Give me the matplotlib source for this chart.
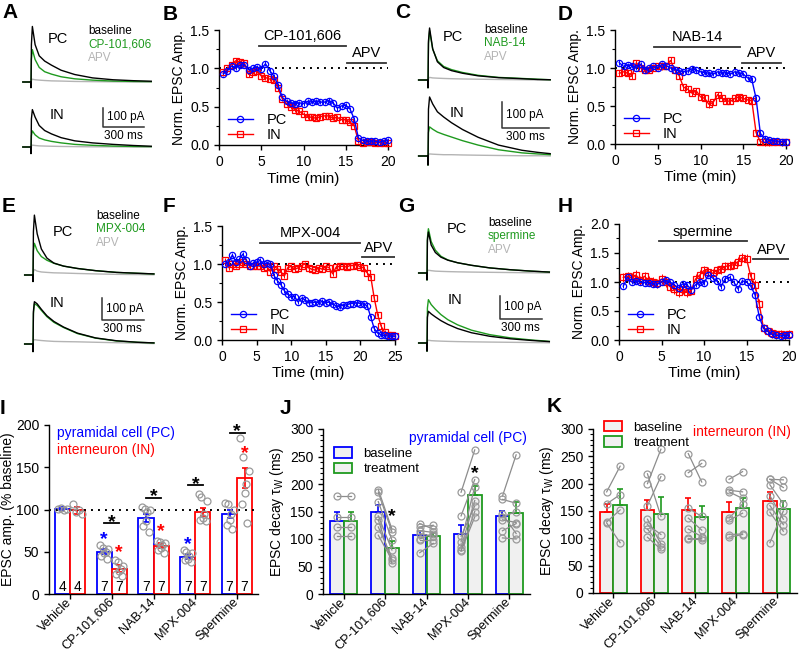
import numpy as np
import matplotlib.pyplot as plt
from matplotlib.patches import Patch
from matplotlib.ticker import MultipleLocator, FormatStrFormatter

plt.rcParams['font.family'] = ['Liberation Sans', 'DejaVu Sans']
plt.rcParams['mathtext.fontset'] = 'custom'
plt.rcParams['mathtext.rm'] = 'Liberation Sans'
plt.rcParams['mathtext.it'] = 'Liberation Sans:italic'
plt.rcParams['axes.linewidth'] = 1.0
plt.rcParams['xtick.major.width'] = 1.0
plt.rcParams['ytick.major.width'] = 1.0
plt.rcParams['xtick.major.size'] = 3.5
plt.rcParams['ytick.major.size'] = 3.5
plt.rcParams['ytick.minor.size'] = 2.0
plt.rcParams['ytick.minor.width'] = 0.8

FIG_W, FIG_H = 800, 655
BLUE = '#0000ff'
RED = '#ff0000'
GREEN = '#1f9a1f'
GREY = '#b4b4b4'
DOT_GREY = '#9a9a9a'

# ---------------- example traces (A, C, E, G), values in pA ----------------
t_a = [-60, -2, 0, 3, 10, 30, 60, 100, 150, 220, 320, 450, 600, 750, 880]
a_pc_base = [0, 0, -30, 200, 297, 200, 140, 112, 90, 63, 40, 22, 12, 7, 4]
a_pc_drug = [0, 0, -30, 120, 173, 120, 78, 55, 42, 28, 17, 10, 5, 3, 2]
a_pc_apv = [0, 0, -30, 8, 15, 12, 10, 8, 6, 5, 3, 2, 1, 0, 0]
a_in_base = [0, 0, -35, 150, 200, 160, 115, 88, 70, 50, 33, 22, 14, 8, 4]
a_in_drug = [0, 0, -35, 60, 86, 65, 48, 38, 30, 22, 14, 9, 5, 3, 2]
a_in_apv = [0, 0, -35, 5, 10, 8, 6, 5, 4, 3, 2, 1, 1, 0, 0]

t_c = [-60, -2, 0, 3, 10, 30, 60, 100, 150, 220, 320, 450, 600, 700, 780]
c_pc_base = [0, 0, -30, 150, 200, 120, 70, 48, 36, 26, 16, 9, 5, 2, 1]
c_pc_drug = [0, 0, -30, 140, 190, 118, 74, 52, 40, 29, 18, 10, 6, 3, 1]
c_pc_apv = [0, 0, -30, 6, 10, 8, 7, 6, 5, 4, 3, 2, 1, 0, 0]
c_in_base = [0, 0, -35, 180, 227, 200, 170, 150, 128, 102, 72, 42, 22, 14, 9]
c_in_drug = [0, 0, -35, 90, 112, 103, 92, 83, 73, 59, 42, 24, 12, 8, 5]
c_in_apv = [0, 0, -35, 5, 8, 7, 6, 5, 5, 4, 3, 2, 1, 1, 0]

t_e = [-60, -2, 0, 3, 10, 30, 60, 100, 150, 220, 320, 450, 600, 750, 870]
e_pc_base = [0, 0, -30, 200, 276, 190, 120, 78, 55, 41, 30, 20, 12, 8, 5]
e_pc_drug = [0, 0, -30, 110, 146, 112, 85, 68, 54, 41, 30, 20, 12, 8, 5]
e_pc_apv = [0, 0, -30, 15, 25, 18, 14, 12, 10, 9, 7, 5, 3, 2, 1]
e_in_base = [0, 0, -35, 150, 195, 185, 160, 130, 104, 78, 50, 28, 15, 8, 5]
e_in_drug = [0, 0, -35, 140, 185, 178, 155, 126, 100, 76, 48, 27, 14, 8, 5]
e_in_apv = [0, 0, -35, 15, 20, 18, 16, 14, 12, 11, 10, 8, 6, 4, 2]

t_g = [-60, -2, 0, 3, 10, 30, 60, 100, 150, 220, 320, 450, 600, 750, 880]
g_pc_base = [0, 0, -30, 140, 176, 120, 88, 68, 55, 44, 33, 22, 14, 8, 4]
g_pc_drug = [0, 0, -30, 150, 190, 135, 98, 72, 56, 44, 33, 22, 14, 8, 4]
g_pc_apv = [0, 0, -30, 8, 12, 10, 8, 7, 6, 5, 4, 3, 2, 1, 0]
g_in_base = [0, 0, -35, 110, 136, 125, 112, 96, 80, 62, 44, 29, 18, 11, 6]
g_in_drug = [0, 0, -35, 150, 186, 165, 145, 122, 100, 78, 55, 36, 22, 13, 7]
g_in_apv = [0, 0, -35, 8, 12, 10, 9, 8, 7, 6, 5, 4, 3, 2, 1]

# ---------------- time courses (B, D, F, H) ----------------
time_20 = np.arange(0.5, 20.01, 0.5)
time_25 = np.arange(0.5, 25.01, 0.5)

b_pc = [0.93, 0.97, 1.03, 1.01, 1.04, 1.05, 0.98, 1.00, 1.02, 0.99,
        1.06, 0.97, 0.90, 0.78, 0.62, 0.57, 0.55, 0.54, 0.55, 0.54,
        0.57, 0.56, 0.57, 0.56, 0.56, 0.58, 0.55, 0.48, 0.51, 0.52,
        0.47, 0.34, 0.09, 0.06, 0.05, 0.05, 0.05, 0.04, 0.05, 0.06]
b_in = [0.95, 1.00, 1.05, 1.10, 1.08, 1.07, 0.92, 0.95, 0.97, 0.90,
        0.88, 0.86, 0.85, 0.74, 0.60, 0.54, 0.50, 0.46, 0.44, 0.40,
        0.37, 0.36, 0.35, 0.37, 0.38, 0.38, 0.35, 0.36, 0.33, 0.33,
        0.30, 0.25, 0.05, 0.03, 0.04, 0.04, 0.03, 0.03, 0.03, 0.03]
d_pc = [1.07, 1.02, 1.04, 1.03, 1.00, 1.05, 0.98, 1.00, 1.02, 1.00,
        1.05, 1.03, 1.00, 0.98, 0.96, 0.95, 0.96, 0.99, 0.97, 0.95,
        0.94, 0.93, 0.92, 0.95, 0.93, 0.94, 0.92, 0.95, 0.93, 0.92,
        0.87, 0.85, 0.60, 0.14, 0.07, 0.05, 0.04, 0.04, 0.03, 0.03]
d_in = [0.93, 0.95, 0.93, 0.90, 1.07, 1.00, 0.97, 0.98, 1.00, 1.03,
        1.02, 1.03, 1.10, 0.97, 0.90, 0.75, 0.72, 0.67, 0.70, 0.62,
        0.60, 0.52, 0.55, 0.65, 0.60, 0.57, 0.56, 0.60, 0.62, 0.60,
        0.58, 0.57, 0.15, 0.03, 0.02, 0.02, 0.03, 0.03, 0.02, 0.02]
f_pc = [1.00, 1.03, 1.12, 1.03, 1.06, 1.13, 1.05, 0.98, 1.01, 1.02,
        1.05, 1.00, 1.01, 1.00, 0.85, 0.78, 0.73, 0.65, 0.60, 0.57,
        0.57, 0.50, 0.55, 0.53, 0.49, 0.49, 0.50, 0.49, 0.51, 0.49,
        0.50, 0.47, 0.45, 0.44, 0.46, 0.46, 0.48, 0.48, 0.49, 0.48,
        0.47, 0.45, 0.30, 0.15, 0.09, 0.07, 0.06, 0.05, 0.05, 0.05]
f_in = [1.05, 0.95, 1.00, 0.98, 1.00, 1.02, 1.00, 0.98, 0.97, 0.98,
        0.97, 0.95, 0.96, 0.90, 0.97, 0.94, 0.90, 0.84, 0.95, 0.97,
        0.93, 0.95, 0.98, 1.00, 0.95, 0.93, 0.92, 0.95, 0.93, 0.97,
        0.95, 0.87, 0.96, 0.97, 0.97, 0.96, 0.98, 0.98, 0.99, 0.96,
        0.95, 0.88, 0.83, 0.55, 0.33, 0.18, 0.10, 0.07, 0.06, 0.05]
h_pc = [0.93, 1.08, 1.00, 1.02, 1.00, 0.99, 0.98, 0.97, 0.96, 1.00,
        1.03, 1.00, 0.95, 0.90, 0.97, 0.95, 0.87, 0.95, 1.00, 0.98,
        1.12, 1.07, 1.02, 0.92, 1.06, 1.08, 1.00, 0.88, 1.02, 1.00,
        0.93, 0.78, 0.40, 0.20, 0.15, 0.10, 0.08, 0.07, 0.08, 0.08]
h_in = [1.08, 1.10, 1.07, 1.12, 1.03, 1.10, 1.02, 1.00, 0.98, 1.05,
        1.00, 0.92, 0.88, 0.83, 0.88, 0.82, 0.85, 1.05, 1.12, 1.20,
        1.18, 1.15, 1.20, 1.22, 1.27, 1.28, 1.30, 1.35, 1.42, 1.40,
        1.10, 0.95, 0.62, 0.20, 0.15, 0.12, 0.10, 0.10, 0.08, 0.10]
# typical SEM per series
b_sem = (0.03, 0.03)
d_sem = (0.03, 0.04)
f_sem = (0.03, 0.03)
h_sem = (0.04, 0.08)

# ---------------- summary bars (I, J, K) ----------------
drugs = ['Vehicle', 'CP-101,606', 'NAB-14', 'MPX-004', 'Spermine']

i_pc_mean = [101, 50, 90, 44, 95]
i_pc_sem = [1.5, 3, 5, 3, 5]
i_in_mean = [99, 30, 57, 97, 137]
i_in_sem = [4, 4, 3, 5, 12]
i_pc_n = [4, 7, 7, 7, 7]
i_in_n = [4, 7, 7, 7, 7]
i_pc_pts = [[101, 100, 102, 101],
            [58, 55, 53, 50, 48, 45, 42],
            [103, 101, 100, 97, 86, 80, 73],
            [52, 50, 48, 45, 42, 40, 38],
            [108, 107, 100, 95, 88, 82, 77]]
i_in_pts = [[106, 100, 97, 95],
            [40, 38, 33, 30, 27, 24, 21],
            [63, 62, 60, 58, 55, 52, 48],
            [118, 115, 110, 95, 90, 88, 86],
            [185, 162, 146, 130, 120, 107, 84]]
i_pair_sig = [1, 2, 3, 4]
i_pair_sig_y = [84, 114, 129, 191]
i_pc_sig = [1, 3]
i_pc_sig_y = [68, 62]
i_in_sig = [1, 2, 4]
i_in_sig_y = [53, 78, 170]

j_base_mean = [133, 150, 107, 110, 141]
j_base_sem = [16, 12, 7, 16, 10]
j_trt_mean = [133, 83, 106, 180, 148]
j_trt_sem = [16, 14, 5, 17, 20]
j_base_pts = [[179, 140, 122, 106],
              [190, 185, 168, 142, 122, 107, 135],
              [128, 122, 115, 110, 98, 75, 100],
              [185, 142, 95, 85, 80, 78, 105],
              [178, 172, 140, 135, 145, 102, 115]]
j_trt_pts = [[179, 140, 122, 106],
             [118, 113, 98, 80, 66, 62, 56],
             [118, 125, 112, 105, 98, 92, 110],
             [262, 208, 195, 170, 150, 140, 160],
             [253, 165, 150, 130, 110, 100, 128]]
j_sig = [1, 3]
j_sig_y = [150, 228]

k_base_mean = [149, 151, 151, 149, 168]
k_base_sem = [13, 20, 23, 17, 16]
k_trt_mean = [161, 145, 139, 156, 154]
k_trt_sem = [30, 30, 21, 17, 14]
k_base_pts = [[185, 163, 130, 128],
              [218, 200, 160, 125, 117, 102, 135],
              [255, 220, 155, 137, 117, 100, 98],
              [208, 188, 185, 137, 133, 107, 102],
              [208, 208, 198, 178, 160, 148, 92]]
k_trt_pts = [[232, 180, 152, 92],
             [140, 263, 213, 107, 85, 80, 90],
             [203, 237, 140, 115, 103, 97, 100],
             [222, 185, 173, 163, 146, 108, 107],
             [207, 193, 163, 135, 125, 113, 150]]


def px_axes(fig, left, top, right, bottom):
    return fig.add_axes([left / FIG_W, 1 - bottom / FIG_H,
                         (right - left) / FIG_W, (bottom - top) / FIG_H])


def px_text(fig, x, y, s, **kw):
    fig.text(x / FIG_W, 1 - y / FIG_H, s, **kw)


def draw_traces(fig, lay, t, pc, inn, drug):
    sx, pc_y, in_y = lay['stim_x'], lay['pc_y'], lay['in_y']
    ms_px, pa_px = lay['ms_px'], lay['pa_px']
    left, right = sx - 15, sx + 140
    top, bottom = pc_y - 65, in_y + 12
    ax = px_axes(fig, left, top, right, bottom)
    ax.set_xlim((left - sx) * ms_px, (right - sx) * ms_px)
    ax.set_ylim((in_y - bottom) * pa_px, (in_y - top) * pa_px)
    ax.axis('off')
    pc_off = (in_y - pc_y) * pa_px
    for vals, off in ((pc, pc_off), (inn, 0.0)):
        apv, base, dr = vals[2], vals[0], vals[1]
        ax.plot(t, np.array(apv) + off, color=GREY, lw=1.0)
        ax.plot(t, np.array(dr) + off, color=GREEN, lw=1.0)
        ax.plot(t, np.array(base) + off, color='black', lw=1.0)
    # scale bar
    bx, by = lay['bar']
    x0 = (bx - sx) * ms_px
    y0 = (in_y - by) * pa_px
    ax.plot([x0, x0, x0 + 300], [y0 + 100, y0, y0], color='#333333', lw=1.1,
            clip_on=False)
    ax.text(x0 + 4 * ms_px, y0 + 50, '100 pA', fontsize=8.5, va='center',
            ha='left')
    ax.text(x0 + 150, y0 - 9 * pa_px, '300 ms', fontsize=8.5, va='center',
            ha='center')
    px_text(fig, *lay['pc_lab'], 'PC', fontsize=10.5, ha='center', va='center')
    px_text(fig, *lay['in_lab'], 'IN', fontsize=10.5, ha='center', va='center')
    lx, ly = lay['leg']
    px_text(fig, lx, ly, 'baseline', fontsize=8.5, va='center', color='black')
    px_text(fig, lx, ly + 13.5, drug, fontsize=8.5, va='center', color=GREEN)
    px_text(fig, lx, ly + 27, 'APV', fontsize=8.5, va='center', color=GREY)


def draw_timecourse(fig, rect, t, pc, inn, sem, xmax, ymax, drug, drug_span,
                    drug_y, apv_span, apv_y):
    ax = px_axes(fig, *rect)
    ax.plot([0, xmax], [1, 1], color='black', lw=1.4,
            linestyle=(0, (1, 2.6)), zorder=1)
    for vals, s, col, mk, lab in ((inn, sem[1], RED, 's', 'IN'),
                                  (pc, sem[0], BLUE, 'o', 'PC')):
        ax.errorbar(t, vals, yerr=s, fmt='none', ecolor=col, elinewidth=0.7,
                    capsize=0, zorder=2, clip_on=False)
        ax.plot(t, vals, color=col, marker=mk, mfc='none', mec=col, ms=4.5,
                mew=0.9, lw=1.0, clip_on=False, label=lab, zorder=3)
    ax.plot(drug_span, [drug_y, drug_y], color='#333333', lw=1.3)
    ax.text(np.mean(drug_span), drug_y + 0.035 * ymax / 1.5, drug,
            ha='center', va='bottom', fontsize=10.5)
    ax.plot(apv_span, [apv_y, apv_y], color='#333333', lw=1.3)
    ax.text(np.mean(apv_span), apv_y + 0.035 * ymax / 1.5, 'APV',
            ha='center', va='bottom', fontsize=10.5)
    ax.set_xlim(0, xmax)
    ax.set_ylim(0, ymax)
    ax.xaxis.set_major_locator(MultipleLocator(5))
    ax.yaxis.set_major_locator(MultipleLocator(0.5))
    ax.yaxis.set_minor_locator(MultipleLocator(0.25))
    ax.yaxis.set_major_formatter(FormatStrFormatter('%.1f'))
    ax.tick_params(labelsize=10)
    for side in ('top', 'right'):
        ax.spines[side].set_visible(False)
    ax.set_xlabel('Time (min)', fontsize=11, labelpad=2)
    ax.set_ylabel('Norm. EPSC Amp.', fontsize=10, labelpad=3)
    handles, labels = ax.get_legend_handles_labels()
    ax.legend(handles[::-1], labels[::-1], loc='lower left',
              bbox_to_anchor=(0.0, -0.05), frameon=False, fontsize=10.5,
              handlelength=1.7, handletextpad=1.0, labelspacing=0.05,
              borderaxespad=0.2)
    return ax


def style_bar_axes(ax, ymax, major, minor=None):
    ax.set_xlim(-0.5, 4.5)
    ax.set_ylim(0, ymax)
    ax.yaxis.set_major_locator(MultipleLocator(major))
    if minor:
        ax.yaxis.set_minor_locator(MultipleLocator(minor))
    ax.set_xticks(range(len(drugs)))
    ax.set_xticklabels(drugs, rotation=45, ha='right', va='center',
                       rotation_mode='anchor', fontsize=9.2)
    ax.tick_params(axis='x', pad=1.0)
    ax.tick_params(axis='y', labelsize=10)
    for side in ('top', 'right'):
        ax.spines[side].set_visible(False)


def scatter_offsets(n, spread):
    return np.linspace(-spread, spread, n)[np.argsort(np.arange(n) % 2)]


fig = plt.figure(figsize=(FIG_W / 100, FIG_H / 100), dpi=100)

trace_layouts = {
    'A': dict(stim_x=31, pc_y=82, in_y=147, ms_px=300 / 41, pa_px=100 / 18.7,
              bar=(103, 126.7), pc_lab=(58, 39), in_lab=(57, 115),
              leg=(88, 31)),
    'C': dict(stim_x=428, pc_y=80, in_y=156, ms_px=300 / 47, pa_px=100 / 26,
              bar=(502, 128), pc_lab=(453, 37), in_lab=(457, 113),
              leg=(484, 30)),
    'E': dict(stim_x=33, pc_y=275, in_y=344, ms_px=300 / 41.7,
              pa_px=100 / 21.7, bar=(102, 320), pc_lab=(63, 232),
              in_lab=(57, 303), leg=(96, 216)),
    'G': dict(stim_x=427, pc_y=273, in_y=343, ms_px=300 / 41.7,
              pa_px=100 / 23.3, bar=(500, 319), pc_lab=(457, 229),
              in_lab=(455, 300), leg=(488, 223)),
}

draw_traces(fig, trace_layouts['A'], t_a,
            (a_pc_base, a_pc_drug, a_pc_apv), (a_in_base, a_in_drug, a_in_apv),
            'CP-101,606')
draw_traces(fig, trace_layouts['C'], t_c,
            (c_pc_base, c_pc_drug, c_pc_apv), (c_in_base, c_in_drug, c_in_apv),
            'NAB-14')
draw_traces(fig, trace_layouts['E'], t_e,
            (e_pc_base, e_pc_drug, e_pc_apv), (e_in_base, e_in_drug, e_in_apv),
            'MPX-004')
draw_traces(fig, trace_layouts['G'], t_g,
            (g_pc_base, g_pc_drug, g_pc_apv), (g_in_base, g_in_drug, g_in_apv),
            'spermine')

draw_timecourse(fig, (219, 30, 388, 145), time_20, b_pc, b_in, b_sem, 20, 1.5,
                'CP-101,606', (4.7, 15.0), 1.29, (15.1, 19.8), 1.07)
draw_timecourse(fig, (615, 30, 786, 144), time_20, d_pc, d_in, d_sem, 20, 1.5,
                'NAB-14', (4.6, 14.6), 1.28, (14.8, 19.4), 1.07)
draw_timecourse(fig, (222, 226, 395, 340), time_25, f_pc, f_in, f_sem, 25, 1.5,
                'MPX-004', (5.5, 19.9), 1.28, (20.3, 25.0), 1.09)
draw_timecourse(fig, (619, 224, 789, 340), time_20, h_pc, h_in, h_sem, 20, 2.0,
                'spermine', (4.7, 15.0), 1.70, (15.8, 20.0), 1.39)

# ---------------- panel I ----------------
x = np.arange(len(drugs))
bw = 0.36
ax_i = px_axes(fig, 49, 425, 258, 594)
ax_i.plot([-0.5, 4.5], [100, 100], color='black', lw=1.4,
          linestyle=(0, (1, 2.6)), zorder=2.5)
for means, sems, col, sign, pts, ns in ((i_pc_mean, i_pc_sem, BLUE, -1,
                                         i_pc_pts, i_pc_n),
                                        (i_in_mean, i_in_sem, RED, 1,
                                         i_in_pts, i_in_n)):
    xs = x + sign * bw / 2
    ax_i.bar(xs, means, width=bw, facecolor='white', edgecolor=col, lw=1.3,
             zorder=2)
    ax_i.errorbar(xs, means, yerr=sems, fmt='none', ecolor=col, elinewidth=1.2,
                  capsize=2.5, capthick=1.2, zorder=3)
    for xi, p in zip(xs, pts):
        ax_i.plot(xi + scatter_offsets(len(p), 0.1), p, 'o', mfc='none',
                  mec=DOT_GREY, ms=5, mew=0.9, zorder=4)
    for xi, n in zip(xs, ns):
        ax_i.text(xi, 8, str(n), ha='center', va='center', fontsize=10,
                  zorder=5)
for c, yv in zip(i_pair_sig, i_pair_sig_y):
    ax_i.plot([c - bw / 2, c + bw / 2], [yv, yv], color='black', lw=1.3)
    ax_i.text(c, yv - 9, '*', ha='center', va='bottom', fontsize=14,
              fontweight='bold')
for c, yv in zip(i_pc_sig, i_pc_sig_y):
    ax_i.text(c - bw / 2, yv - 14, '*', ha='center', va='bottom', fontsize=14,
              fontweight='bold', color=BLUE)
for c, yv in zip(i_in_sig, i_in_sig_y):
    ax_i.text(c + bw / 2, yv - 14, '*', ha='center', va='bottom', fontsize=14,
              fontweight='bold', color=RED)
style_bar_axes(ax_i, 200, 50)
ax_i.set_ylabel('EPSC amp. (% baseline)', fontsize=10, labelpad=0.5)
ax_i.text(0.04, 0.95, 'pyramidal cell (PC)', color=BLUE, fontsize=10,
          transform=ax_i.transAxes, va='center')
ax_i.text(0.04, 0.855, 'interneuron (IN)', color=RED, fontsize=10,
          transform=ax_i.transAxes, va='center')


def draw_decay(ax, base_mean, base_sem, trt_mean, trt_sem, base_pts, trt_pts,
               base_col):
    w = 0.33
    xb, xt = x - w / 2, x + w / 2
    ax.bar(xb, base_mean, width=w, facecolor='#f0f0f0', edgecolor=base_col,
           lw=1.3, zorder=2)
    ax.bar(xt, trt_mean, width=w, facecolor='#f0f0f0', edgecolor=GREEN,
           lw=1.3, zorder=2)
    ax.errorbar(xb, base_mean, yerr=[np.zeros(len(x)), base_sem], fmt='none',
                ecolor=base_col, elinewidth=1.2, capsize=2.5, capthick=1.2,
                zorder=3)
    ax.errorbar(xt, trt_mean, yerr=[np.zeros(len(x)), trt_sem], fmt='none',
                ecolor=GREEN, elinewidth=1.2, capsize=2.5, capthick=1.2,
                zorder=3)
    for i in range(len(x)):
        for b, t in zip(base_pts[i], trt_pts[i]):
            ax.plot([xb[i], xt[i]], [b, t], color='#8c8c8c', lw=0.9,
                    marker='o', mfc='none', mec=DOT_GREY, ms=5, mew=0.9,
                    zorder=4)
    style_bar_axes(ax, 300, 50, 10)
    ax.set_ylabel('EPSC decay τ$_\\mathrm{W}$ (ms)', fontsize=10, labelpad=3)
    return xt


# ---------------- panel J ----------------
ax_j = px_axes(fig, 323, 429, 530, 594)
xt_j = draw_decay(ax_j, j_base_mean, j_base_sem, j_trt_mean, j_trt_sem,
                  j_base_pts, j_trt_pts, BLUE)
for c, yv in zip(j_sig, j_sig_y):
    ax_j.text(xt_j[c], yv - 24, '*', ha='center', va='bottom', fontsize=14,
              fontweight='bold')
ax_j.text(0.70, 0.945, 'pyramidal cell (PC)', color=BLUE, fontsize=10,
          transform=ax_j.transAxes, ha='center', va='center')
ax_j.legend([Patch(facecolor='#f0f0f0', edgecolor=BLUE, lw=1.3),
             Patch(facecolor='#f0f0f0', edgecolor=GREEN, lw=1.3)],
            ['baseline', 'treatment'], loc='upper left',
            bbox_to_anchor=(0.03, 0.92), frameon=False, fontsize=9.5,
            handlelength=1.3, handleheight=0.8, handletextpad=0.9,
            labelspacing=0.2, borderaxespad=0)

# ---------------- panel K ----------------
ax_k = px_axes(fig, 593, 429, 797, 593)
draw_decay(ax_k, k_base_mean, k_base_sem, k_trt_mean, k_trt_sem,
           k_base_pts, k_trt_pts, RED)
ax_k.text(0.73, 0.98, 'interneuron (IN)', color=RED, fontsize=10,
          transform=ax_k.transAxes, ha='center', va='center')
ax_k.legend([Patch(facecolor='#f0f0f0', edgecolor=RED, lw=1.3),
             Patch(facecolor='#f0f0f0', edgecolor=GREEN, lw=1.3)],
            ['baseline', 'treatment'], loc='upper left',
            bbox_to_anchor=(0.03, 1.08), frameon=False, fontsize=9.5,
            handlelength=1.3, handleheight=0.8, handletextpad=0.9,
            labelspacing=0.2, borderaxespad=0)

# ---------------- panel letters ----------------
letters = [('A', 2, 12), ('B', 163, 14), ('C', 395, 12), ('D', 558, 14),
           ('E', 2, 207), ('F', 163, 207), ('G', 398, 207), ('H', 558, 207),
           ('I', 0, 408), ('J', 280, 408), ('K', 547, 407)]
for s, lx, ly in letters:
    px_text(fig, lx, ly, s, fontsize=15, fontweight='bold', va='center',
            ha='left')

fig.savefig('out.png', dpi=100)
